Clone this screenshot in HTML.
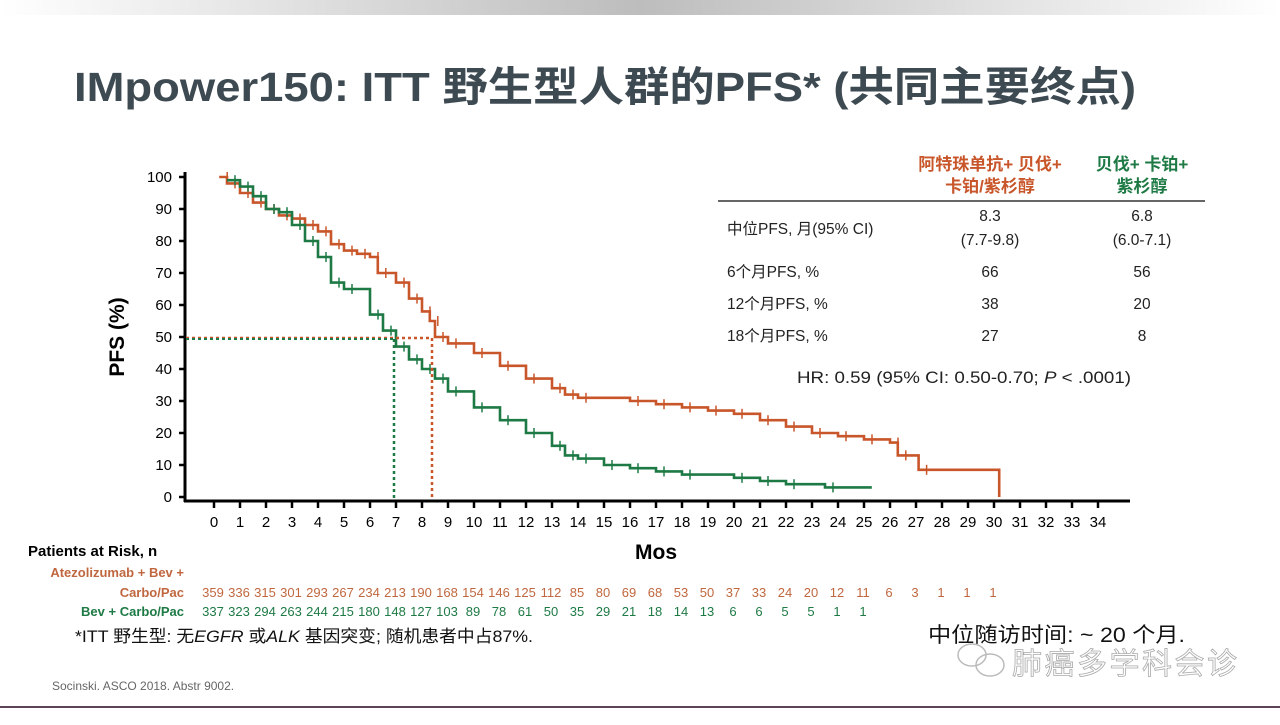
<!DOCTYPE html>
<html><head><meta charset="utf-8"><style>
body{margin:0;width:1280px;height:720px;overflow:hidden;background:#fff;font-family:"Liberation Sans","Noto Sans CJK SC",sans-serif;}
</style></head><body>
<svg id="s" width="1280" height="720" xmlns="http://www.w3.org/2000/svg" font-family="Liberation Sans, Noto Sans CJK SC, sans-serif">
<defs><linearGradient id="g" x1="0" x2="1"><stop offset="0" stop-color="#fff"/><stop offset="0.5" stop-color="#bdbdbd"/><stop offset="1" stop-color="#fff"/></linearGradient></defs>
<rect x="0" y="0" width="1280" height="15" fill="url(#g)"/>
<text x="74" y="101" font-size="41" font-weight="bold" fill="#3e4a52" textLength="1062" lengthAdjust="spacingAndGlyphs">IMpower150: ITT 野生型人群的PFS* (共同主要终点)</text>
<g id="axes" stroke="#000" stroke-width="3" fill="none">
<line x1="185" y1="172" x2="185" y2="502"/><line x1="184" y1="501" x2="1130" y2="501"/>
</g>
<g id="ticks"></g>
<g id="curves" fill="none" stroke-width="2.6"></g>
<line x1="186" y1="338" x2="432" y2="338" stroke="#c8562a" stroke-width="2.5" stroke-dasharray="3,3"/>
<line x1="186" y1="339" x2="394" y2="339" stroke="#1e7a45" stroke-width="2" stroke-dasharray="3,3"/>
<line x1="432" y1="338" x2="432" y2="500" stroke="#c8562a" stroke-width="2.5" stroke-dasharray="3,3"/>
<line x1="394" y1="339" x2="394" y2="500" stroke="#1e7a45" stroke-width="2.5" stroke-dasharray="3,3"/>
<text transform="translate(124,337) rotate(-90)" text-anchor="middle" font-size="21" font-weight="bold">PFS (%)</text>
<text x="656" y="559" text-anchor="middle" font-size="21" font-weight="bold">Mos</text>
<g font-size="17" font-weight="bold" text-anchor="middle">
<text x="990" y="170" fill="#c8562a">阿特珠单抗+ 贝伐+</text><text x="990" y="192" fill="#c8562a">卡铂/紫杉醇</text>
<text x="1142" y="170" fill="#1e7a45">贝伐+ 卡铂+</text><text x="1142" y="192" fill="#1e7a45">紫杉醇</text>
</g>
<line x1="718" y1="201" x2="1205" y2="201" stroke="#666" stroke-width="2"/>
<g font-size="15.5" fill="#222">
<text x="727" y="234">中位PFS, 月(95% CI)</text>
<text x="727" y="277">6个月PFS, %</text><text x="727" y="309">12个月PFS, %</text><text x="727" y="341">18个月PFS, %</text>
<g text-anchor="middle">
<text x="990" y="221">8.3</text><text x="990" y="245">(7.7-9.8)</text>
<text x="1142" y="221">6.8</text><text x="1142" y="245">(6.0-7.1)</text>
<text x="990" y="277">66</text><text x="1142" y="277">56</text>
<text x="990" y="309">38</text><text x="1142" y="309">20</text>
<text x="990" y="341">27</text><text x="1142" y="341">8</text>
</g>
<text x="797" y="383" font-size="17" textLength="334" lengthAdjust="spacingAndGlyphs">HR: 0.59 (95% CI: 0.50-0.70; <tspan font-style="italic">P</tspan> &lt; .0001)</text>
</g>
<text x="28" y="556" font-size="15" font-weight="bold">Patients at Risk, n</text>
<g font-size="13" font-weight="bold" text-anchor="end">
<text x="184" y="577" fill="#c0673f">Atezolizumab + Bev +</text>
<text x="184" y="597" fill="#c0673f">Carbo/Pac</text>
<text x="184" y="616" fill="#1e7a45">Bev + Carbo/Pac</text>
</g>
<g id="risk" font-size="13" text-anchor="middle"></g>
<text x="75" y="642" font-size="17" fill="#111" textLength="458" lengthAdjust="spacingAndGlyphs">*ITT 野生型: 无<tspan font-style="italic">EGFR</tspan> 或<tspan font-style="italic">ALK</tspan> 基因突变; 随机患者中占87%.</text>
<text x="52" y="690" font-size="12" fill="#666">Socinski. ASCO 2018. Abstr 9002.</text>
<text x="928" y="642" font-size="21" fill="#111" textLength="257" lengthAdjust="spacingAndGlyphs">中位随访时间: ~ 20 个月.</text>
<g fill="none" stroke="#bbb" stroke-width="1.5"><ellipse cx="972" cy="655" rx="14" ry="11"/><ellipse cx="990" cy="665" rx="14" ry="11"/></g>
<text x="1012" y="674" font-size="30" fill="#fff" stroke="#aaa" stroke-width="0.8" textLength="225">肺癌多学科会诊</text>
<rect x="0" y="706" width="1280" height="2" fill="#5a4556"/>
</svg>
<script>
var NS="http://www.w3.org/2000/svg";
function X(m){return 214+26*m}function Y(v){return 497-3.2*v}
function el(t,a,p){var e=document.createElementNS(NS,t);for(var k in a)e.setAttribute(k,a[k]);if(p)p.appendChild(e);return e}
var tk=document.getElementById("ticks");
for(var v=0;v<=100;v+=10){el("line",{x1:179,x2:186,y1:Y(v),y2:Y(v),stroke:"#000","stroke-width":2.5},tk);var t=el("text",{x:172,y:Y(v)+5,"font-size":15,"text-anchor":"end"},tk);t.textContent=v;}
for(var m=0;m<=34;m++){el("line",{x1:X(m),x2:X(m),y1:501,y2:508,stroke:"#000","stroke-width":2.5},tk);var t=el("text",{x:X(m),y:527,"font-size":15,"text-anchor":"middle"},tk);t.textContent=m;}
var O=[[0.2,100],[0.5,98],[1,95],[1.5,92],[2,90],[2.5,88],[3,87],[3.5,85],[4,83],[4.5,79],[5,77],[5.5,76],[6,75],[6.3,70],[7,67],[7.5,62],[8,58],[8.3,55],[8.5,50],[9,48],[10,45],[11,41],[12,37],[13,34],[13.5,32],[14,31],[16,30],[17,29],[18,28],[19,27],[20,26],[21,24],[22,22],[23,20],[24,19],[25,18],[26,17],[26.3,13],[27.1,8.5]];
var G=[[0.5,99],[1,97],[1.5,94],[2,90],[2.5,89],[3,85],[3.5,80],[4,75],[4.5,67],[5,65],[6,57],[6.5,52],[7,47],[7.5,43],[8,40],[8.5,37],[9,33],[10,28],[11,24],[12,20],[13,16],[13.5,13],[14,12],[15,10],[16,9],[17,8],[18,7],[20,6],[21,5],[22,4],[23.5,3]];
function path(P,end,drop,col){var d="M"+X(P[0][0])+","+Y(P[0][1]);for(var i=1;i<P.length;i++){d+=" H"+X(P[i][0])+" V"+Y(P[i][1]);}d+=" H"+X(end);if(drop!=null)d+=" V"+Y(drop);el("path",{d:d,stroke:col},document.getElementById("curves"));
for(var i=0;i<P.length;i++){var x=X(P[i][0])+8,y=Y(P[i][1]);el("path",{d:"M"+x+","+(y-5)+"V"+(y+5),stroke:col,"stroke-width":1.5},document.getElementById("curves"));}}
path(O,30.2,0,"#c8562a");path(G,25.3,null,"#1e7a45");
var r1=[359,336,315,301,293,267,234,213,190,168,154,146,125,112,85,80,69,68,53,50,37,33,24,20,12,11,6,3,1,1,1];
var r2=[337,323,294,263,244,215,180,148,127,103,89,78,61,50,35,29,21,18,14,13,6,6,5,5,1,1];
var rg=document.getElementById("risk");
r1.forEach(function(n,i){var t=el("text",{x:X(i)-1,y:597,fill:"#c0673f"},rg);t.textContent=n});
r2.forEach(function(n,i){var t=el("text",{x:X(i)-1,y:616,fill:"#1e7a45"},rg);t.textContent=n});
</script>
</body></html>
